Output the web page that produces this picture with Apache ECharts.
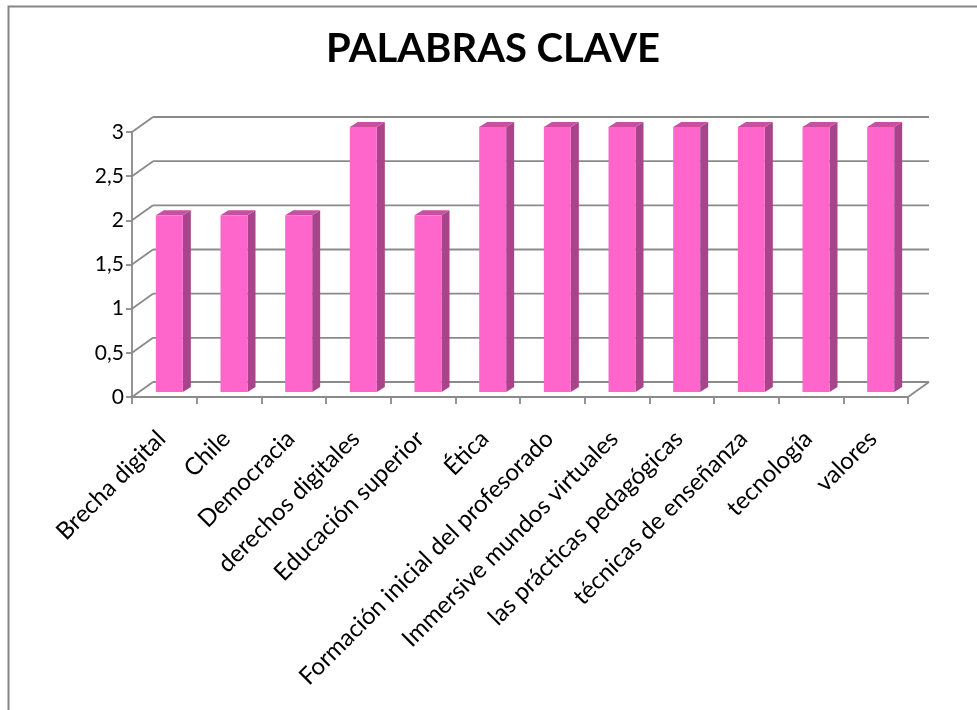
<!DOCTYPE html>
<html>
<head>
<meta charset="utf-8">
<script src="https://cdn.jsdelivr.net/npm/echarts@6/dist/echarts.min.js"></script>
<style>
  html, body { margin: 0; padding: 0; background: #fff; }
  #chart { width: 977px; height: 710px; }
</style>
</head>
<body>
<div id="chart"></div>
<script>
// datos del gráfico
const categorias = [
  'Brecha digital', 'Chile', 'Democracia', 'derechos digitales',
  'Educación superior', 'Ética', 'Formación inicial del profesorado',
  'Immersive mundos virtuales', 'las prácticas pedagógicas',
  'técnicas de enseñanza', 'tecnología', 'valores'
];
const valores = [2, 2, 2, 3, 2, 3, 3, 3, 3, 3, 3, 3];
const ticksY = [0, 0.5, 1, 1.5, 2, 2.5, 3];

// profundidad del "3D"
const fondoDx = 21, fondoDy = -15;   // pared del fondo
const barraDx = 5, barraDy = -5;     // barras a media profundidad
const ladoDx = 8, ladoDy = -5;       // grosor de la barra
const mitadAncho = 13.5;

let myChart = echarts.init(document.getElementById('chart'));

function renderPared(params, api) {
  const v = api.value(0);
  const cs = params.coordSys;
  const y = api.coord([0, v])[1];
  const x0 = cs.x, x1 = cs.x + cs.width;
  const estilo = { stroke: '#8a8a8a', lineWidth: 1.8 };
  const hijos = [
    { type: 'line', shape: { x1: x0 + fondoDx, y1: y + fondoDy, x2: x1 + fondoDx, y2: y + fondoDy }, style: estilo },
    { type: 'line', shape: { x1: x0, y1: y, x2: x0 + fondoDx, y2: y + fondoDy }, style: estilo }
  ];
  if (v === 0) {
    hijos.push({ type: 'line', shape: { x1: x1, y1: y, x2: x1 + fondoDx, y2: y + fondoDy }, style: estilo });
  }
  return { type: 'group', children: hijos };
}

function renderBarra(params, api) {
  const idx = api.value(0);
  const base = api.coord([idx, 0]);
  const tope = api.coord([idx, api.value(1)]);
  const xl = base[0] + barraDx - mitadAncho;
  const xr = base[0] + barraDx + mitadAncho;
  const yb = base[1] + barraDy;
  const yt = tope[1] + barraDy;
  return {
    type: 'group',
    children: [
      { type: 'polygon', shape: { points: [[xr, yt], [xr + ladoDx, yt + ladoDy], [xr + ladoDx, yb + ladoDy], [xr, yb]] },
        style: { fill: '#a8458a' } },
      { type: 'polygon', shape: { points: [[xl, yt], [xl + ladoDx, yt + ladoDy], [xr + ladoDx, yt + ladoDy], [xr, yt]] },
        style: { fill: '#c94fa3' } },
      { type: 'rect', shape: { x: xl, y: yt, width: xr - xl, height: yb - yt },
        style: { fill: '#ff66cc' } }
    ]
  };
}

myChart.setOption({
  backgroundColor: '#fff',
  animation: false,
  title: {
    text: 'PALABRAS CLAVE',
    left: 326,
    top: 29,
    padding: 0,
    textStyle: { fontFamily: 'Lato', fontWeight: 'bold', fontSize: 40, color: '#000' }
  },
  graphic: [{
    type: 'rect',
    shape: { x: 8.5, y: 6.5, width: 1200, height: 1000 },
    style: { fill: null, stroke: '#868686', lineWidth: 2 },
    silent: true
  }],
  grid: { left: 132, right: 69, top: 132, bottom: 313 },
  xAxis: {
    type: 'category',
    data: categorias,
    axisLine: { lineStyle: { color: '#8a8a8a', width: 1.8 } },
    axisTick: { show: true, length: 7, lineStyle: { color: '#8a8a8a', width: 1.8 } },
    axisLabel: {
      rotate: 45, interval: 0, margin: 35,
      padding: [0, 4, 0, 0],
      fontFamily: 'Lato', fontSize: 24, color: '#000'
    }
  },
  yAxis: {
    type: 'value',
    min: 0, max: 3, interval: 0.5,
    axisLine: { show: true, lineStyle: { color: '#8a8a8a', width: 1.8 } },
    axisTick: { show: true, length: 6, lineStyle: { color: '#8a8a8a', width: 1.8 } },
    splitLine: { show: false },
    axisLabel: {
      margin: 8, fontFamily: 'Lato', fontSize: 21, color: '#000',
      formatter: v => String(v).replace('.', ',')
    }
  },
  series: [
    {
      type: 'custom',
      renderItem: renderPared,
      data: ticksY.map(v => [v]),
      encode: { y: 0 },
      silent: true,
      z: 1
    },
    {
      type: 'custom',
      renderItem: renderBarra,
      data: valores.map((v, i) => [i, v]),
      encode: { x: 0, y: 1 },
      z: 3
    }
  ]
});
</script>
</body>
</html>
